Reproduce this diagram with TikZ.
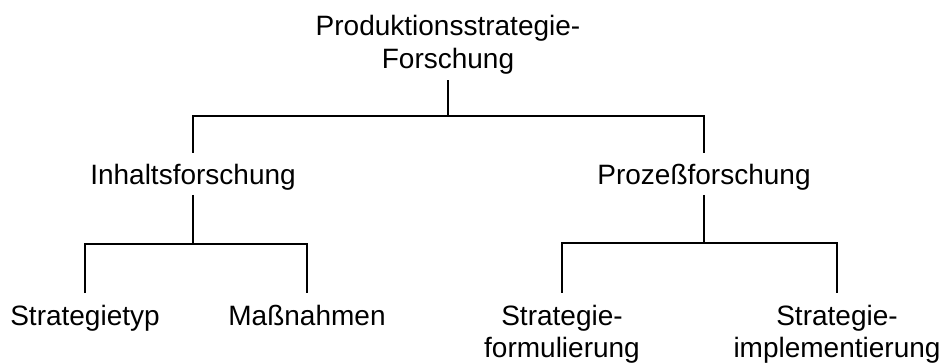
\documentclass[tikz,border=0pt]{standalone}
\usepackage{fontspec}
\setmainfont{Liberation Sans}
\begin{document}
\begin{tikzpicture}[x=1pt,y=-1pt,
  lbl/.style={inner sep=0pt, outer sep=0pt, font=\fontsize{28}{33}\selectfont},
  lbltwo/.style={lbl, font=\fontsize{28}{32}\selectfont},
  conn/.style={line width=1.3pt, black}]
\useasboundingbox (0,0) rectangle (943,363);
\node[lbl, align=center, anchor=north] (root) at (448,15) {Produktionsstrategie-\\Forschung};
\node[lbl, anchor=base] (inh) at (193,185) {Inhaltsforschung};
\node[lbl, anchor=base] (pro) at (704,185) {Prozeßforschung};
\node[lbl, anchor=base] (typ) at (85,326) {Strategietyp};
\node[lbl, anchor=base] (mas) at (307,326) {Maßnahmen};
\node[lbltwo, align=center, anchor=north] (for) at (562,305.5) {Strategie-\\formulierung};
\node[lbltwo, align=center, anchor=north] (imp) at (837,305.5) {Strategie-\\implementierung};
\coordinate (j0) at (448,116);
\coordinate (j1) at (193,244);
\coordinate (j2) at (704,243);
\draw[conn] ([yshift=-6pt]root.south) -- (j0);
\draw[conn] ([yshift=12pt]inh.north) |- (j0) -| ([yshift=12pt]pro.north);
\draw[conn] ([yshift=-4pt]inh.south) -- (j1);
\draw[conn] ([yshift=12.5pt]typ.north) |- (j1) -| ([yshift=12.5pt]mas.north);
\draw[conn] ([yshift=-4pt]pro.south) -- (j2);
\draw[conn] ([yshift=12.5pt]for.north) |- (j2) -| ([yshift=12.5pt]imp.north);
\end{tikzpicture}
\end{document}
